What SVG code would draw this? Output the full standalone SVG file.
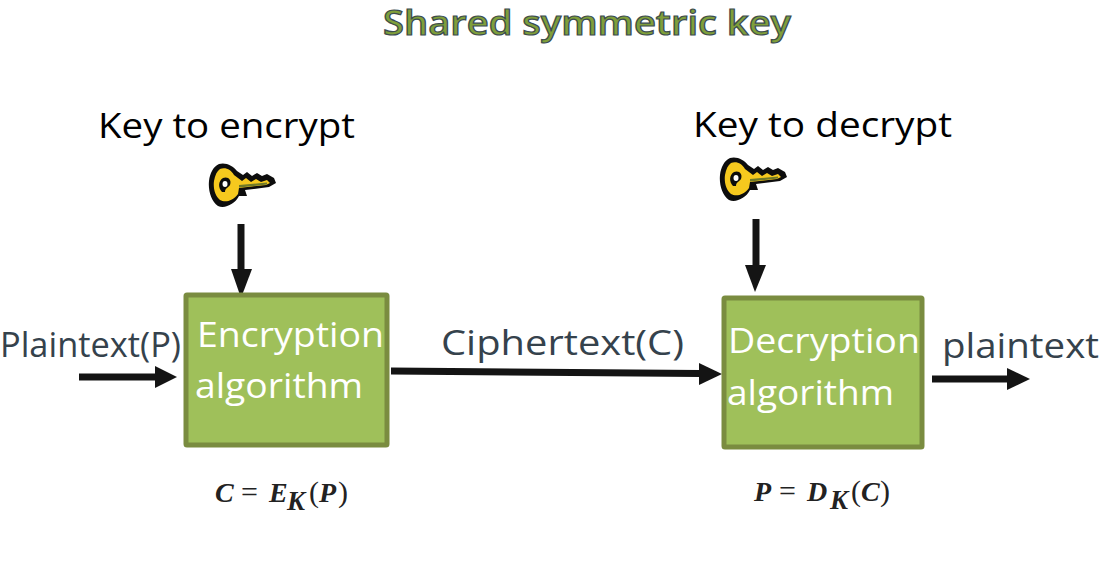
<svg xmlns="http://www.w3.org/2000/svg" width="1100" height="571" viewBox="0 0 1100 571">
<style>
text{font-family:"Open Sans","DejaVu Sans",sans-serif}
.box{fill:#9fc05a;stroke:#7a8c40;stroke-width:5}
.head{font-size:35px;fill:#000}
.lab{font-size:35px;fill:#35424c}
.in{font-size:35px;fill:#fff}
.mi{font-family:"Liberation Serif",serif;font-style:italic;font-weight:bold;font-size:28px;fill:#222}
.mu{font-family:"Liberation Serif",serif;font-size:30px;fill:#222}
.ms{font-family:"Liberation Serif",serif;font-style:italic;font-weight:bold;font-size:27px;fill:#222}
.ln{stroke:#141414;fill:none}
.hd{fill:#141414}
</style>
<defs>
<g id="keyicon">
<path d="M10 1C17 -1 24 3 28 8L34 12L38 9L43 13L48 10L53 13L58 11L65 15L67 20L60 24L36 27L38 33L30 33C26 41 16 46 9 43C2 38 -1 27 0 18C1 10 4 4 10 1Z" fill="#0d0d0d"/>
<path d="M11 6C17 4 22 7 25 12L33 18L37 15L42 19L47 16L52 19L58 17L61 20L57 22L30 25L29 31C24 38 16 40 11 37C6 33 4 25 5 18C6 12 8 8 11 6Z" fill="#f6c91e"/>
<path d="M30 22L58 19.500L58 21.500L30 24.500Z" fill="#6f7a28"/>
<path d="M14 15C19 13 23 17 21 22C19 25 16 25 16 29L13 29C9 25 9 18 14 15Z" fill="#0d0d0d"/>
<ellipse cx="16" cy="21" rx="2.500" ry="3" fill="#fff"/>
</g>
</defs>
<g id="connectors">
<path class="ln" stroke-width="7" d="M241 224V270"/><path class="hd" d="M231 269H252L241 298Z"/>
<path class="ln" stroke-width="7" d="M756 219V266"/><path class="hd" d="M745 265H766L755 292Z"/>
<path class="ln" stroke-width="7" d="M79 377H156"/><path class="hd" d="M155 366L177 377L155 388Z"/>
<path class="ln" stroke-width="7" d="M391 371L700 373.500"/><path class="hd" d="M699 363L722 374L699 385Z"/>
<path class="ln" stroke-width="7" d="M932 379H1008"/><path class="hd" d="M1007 368L1030 379L1007 390Z"/>
</g>
<g id="title"><text x="383" y="35" font-size="34" font-weight="600" fill="#7f9f3a" stroke="#3c4c50" stroke-width="1.200" textLength="408" lengthAdjust="spacingAndGlyphs">Shared symmetric key</text></g>
<g id="key-encrypt">
<text class="head" x="98" y="138" textLength="257" lengthAdjust="spacingAndGlyphs">Key to encrypt</text>
<use href="#keyicon" x="209" y="163"/>
</g>
<g id="key-decrypt">
<text class="head" x="693" y="137" textLength="259" lengthAdjust="spacingAndGlyphs">Key to decrypt</text>
<use href="#keyicon" x="720" y="157"/>
</g>
<g id="plaintext-in"><text class="lab" x="0" y="357" textLength="181" lengthAdjust="spacingAndGlyphs">Plaintext(P)</text></g>
<g id="encryption">
<rect class="box" x="186" y="295" width="201" height="150" rx="1"/>
<text class="in" x="197" y="347" textLength="187" lengthAdjust="spacingAndGlyphs">Encryption</text>
<text class="in" x="195" y="398" textLength="168" lengthAdjust="spacingAndGlyphs">algorithm</text>
</g>
<g id="ciphertext"><text class="lab" x="441" y="355" textLength="243" lengthAdjust="spacingAndGlyphs">Ciphertext(C)</text></g>
<g id="decryption">
<rect class="box" x="724" y="298" width="198" height="149" rx="1"/>
<text class="in" x="728" y="353" textLength="192" lengthAdjust="spacingAndGlyphs">Decryption</text>
<text class="in" x="727" y="405" textLength="167" lengthAdjust="spacingAndGlyphs">algorithm</text>
</g>
<g id="plaintext-out"><text class="lab" x="942" y="358" textLength="157" lengthAdjust="spacingAndGlyphs">plaintext</text></g>
<g id="formula-enc">
<text class="mi" x="215" y="502">C</text><text class="mu" x="241" y="502">=</text><text class="mi" x="269" y="502">E</text><text class="ms" x="287" y="510">K</text><text class="mu" x="309" y="502">(</text><text class="mi" x="319" y="502">P</text><text class="mu" x="338" y="502">)</text>
</g>
<g id="formula-dec">
<text class="mi" x="754" y="501">P</text><text class="mu" x="779" y="501">=</text><text class="mi" x="807" y="501">D</text><text class="ms" x="830" y="509">K</text><text class="mu" x="851" y="501">(</text><text class="mi" x="861" y="501">C</text><text class="mu" x="880" y="501">)</text>
</g>
</svg>
